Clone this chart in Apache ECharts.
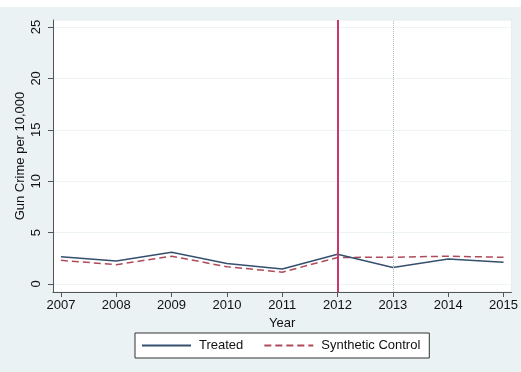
<!DOCTYPE html>
<html>
<head>
<meta charset="utf-8">
<script src="https://cdn.jsdelivr.net/npm/echarts@6/dist/echarts.min.js"></script>
<style>
html,body{margin:0;padding:0;background:#fff;}
#chart{width:521px;height:372px;}
</style>
</head>
<body>
<div id="chart"></div>
<script>
const years = [2007, 2008, 2009, 2010, 2011, 2012, 2013, 2014, 2015];
const treated = [2.65, 2.24, 3.08, 2.0, 1.45, 2.9, 1.6, 2.43, 2.12];
const synthetic = [2.3, 1.88, 2.7, 1.68, 1.15, 2.58, 2.6, 2.7, 2.6];
const yTicks = [0, 5, 10, 15, 20, 25];
const treatmentYear = 2012;
const dottedYear = 2013;

const chart = echarts.init(document.getElementById('chart'));
const font = 'Liberation Sans, Arial, Helvetica, sans-serif';
chart.setOption({
  backgroundColor: '#eaf2f3',
  animation: false,
  graphic: [{type:'rect', left:0, top:0, shape:{width:521, height:7}, style:{fill:'#ffffff'}, silent:true}],
  grid: {left: 53, right: 3, top: 20, bottom: 80, show: true, backgroundColor: '#ffffff', borderColor: '#e6edef', borderWidth: 1},
  xAxis: {
    type: 'value', min: 2006.857, max: 2015.143,
    name: 'Year', nameLocation: 'middle', nameGap: 21,
    nameTextStyle: {fontFamily: font, fontSize: 13, color: '#111'},
    axisLine: {show: true, onZero: false, lineStyle: {color: '#555', width: 1}},
    axisTick: {show: true, length: 5, customValues: years, lineStyle: {color: '#555'}},
    axisLabel: {customValues: years, margin: 7, fontFamily: font, fontSize: 13, color: '#111', formatter: v => String(v)},
    splitLine: {show: false}
  },
  yAxis: {
    type: 'value', min: -0.78, max: 25.68,
    name: 'Gun Crime per 10,000', nameLocation: 'middle', nameGap: 26, nameMoveOverlap: false,
    nameTextStyle: {fontFamily: font, fontSize: 13, color: '#111'},
    axisLine: {show: true, lineStyle: {color: '#555', width: 1}},
    axisTick: {show: true, length: 5, customValues: yTicks, lineStyle: {color: '#555'}},
    axisLabel: {customValues: yTicks, rotate: 90, margin: 10, fontFamily: font, fontSize: 13, color: '#111'},
    splitLine: {show: true, lineStyle: {color: '#eef3f5', width: 1}}
  },
  legend: {
    left: 135, top: 333,
    padding: [6, 9, 6, 6], itemGap: 20, itemWidth: 49, itemHeight: 12,
    backgroundColor: '#ffffff', borderColor: '#333', borderWidth: 1, borderRadius: 0,
    itemStyle: {opacity: 0},
    textStyle: {fontFamily: font, fontSize: 13, color: '#111', padding: [0, 0, 0, 3]},
    data: ['Treated', 'Synthetic Control']
  },
  series: [
    {
      name: 'Treated', type: 'line', symbol: 'none',
      data: years.map((y, i) => [y, treated[i]]),
      lineStyle: {color: '#35506e', width: 1.5}, itemStyle: {color: '#35506e'},
      markLine: {
        symbol: 'none', silent: true, label: {show: false},
        data: [
          {xAxis: treatmentYear, lineStyle: {color: '#c8386d', width: 2, type: 'solid'}},
          {xAxis: dottedYear, lineStyle: {color: '#b8bcbf', width: 1, type: 'dotted'}}
        ]
      },
      z: 3
    },
    {
      name: 'Synthetic Control', type: 'line', symbol: 'none',
      data: years.map((y, i) => [y, synthetic[i]]),
      lineStyle: {color: '#b04a5a', width: 1.5, type: [7, 4]}, itemStyle: {color: '#b04a5a'},
      z: 2
    }
  ]
});
</script>
</body>
</html>
